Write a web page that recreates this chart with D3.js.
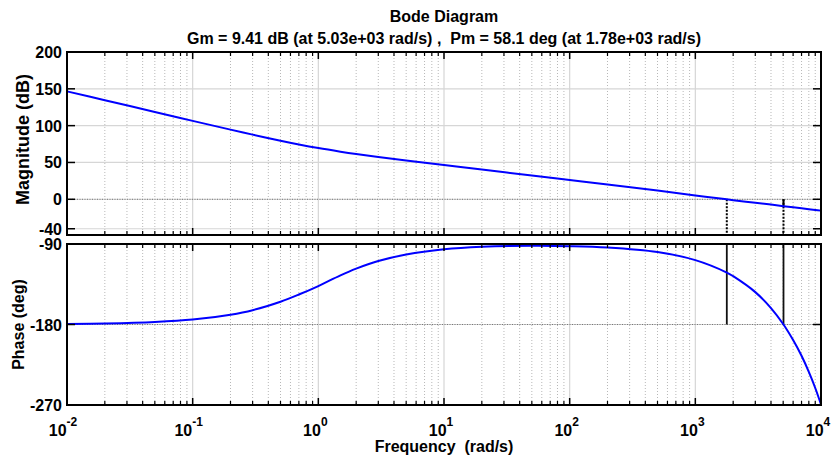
<!DOCTYPE html>
<html>
<head>
<meta charset="utf-8">
<script src="https://cdn.jsdelivr.net/npm/d3@7"></script>
<style>
body { margin: 0; background: #fff; }
text { font-family: "Liberation Sans", Arial, sans-serif; font-weight: bold; fill: #000; white-space: pre; }
</style>
</head>
<body>
<script>
// data
var freq     = [0.01, 0.02, 0.05, 0.1, 0.2, 0.3, 0.5, 0.7, 1, 1.5, 2, 3, 5, 10, 20, 50, 100, 200, 500, 1000, 1780, 2000, 3000, 4000, 5030, 6000, 7000, 8000, 9000, 10000];
var magDb    = [146.5, 134.5, 118.6, 106.5, 94.6, 87.8, 79.5, 74.4, 69.5, 64.6, 61.4, 57.4, 52.7, 46.5, 40.3, 32.2, 26.2, 20.1, 12.0, 5.2, 0, -1.2, -4.7, -7.2, -9.41, -10.9, -12.2, -13.4, -14.4, -15.4];
var phaseDeg = [-179.5, -178.9, -177.2, -174.5, -169, -164, -154.5, -146.5, -137, -125, -117.5, -109, -101.8, -96, -93.2, -92, -92.4, -93.9, -99, -108, -121.9, -126, -143.8, -161.6, -180, -197.4, -215, -233, -251, -269.5];

var magTicks   = [-40, 0, 50, 100, 150, 200];
var phaseTicks = [-270, -180, -90];
var decades    = [-2, -1, 0, 1, 2, 3, 4];

var gm = { db: 9.41, w: 5030 };   // gain margin
var pm = { deg: 58.1, w: 1780 };  // phase margin

var titleText = "Bode Diagram";
var subText = "Gm = 9.41 dB (at 5.03e+03 rad/s) ,  Pm = 58.1 deg (at 1.78e+03 rad/s)";

//SVG
var w = 834, h = 459;
var svg = d3.select("body").append("svg")
	.attr("width", w)
	.attr("height", h);

var left = 67, right = 821;

var x = d3.scaleLog().domain([1e-2, 1e4]).range([left, right]);
var yMag = d3.scaleLinear().domain([-48.5, 200]).range([235, 52]);
var yPh  = d3.scaleLinear().domain([-270, -90]).range([405, 244]);

//minor tick values 2..9 per decade
var minors = [];
decades.slice(0, -1).forEach(function(e){
	for (var k = 2; k <= 9; k++) minors.push(k * Math.pow(10, e));
});
var majors = decades.map(function(e){ return Math.pow(10, e); });

function panel(y, yTicks, dottedAt){
	var y0 = y.range()[1], y1 = y.range()[0];
	var g = svg.append("g");

	//grid
	g.selectAll(".minor").data(minors).enter().append("line")
		.attr("x1", function(d){ return x(d); }).attr("x2", function(d){ return x(d); })
		.attr("y1", y0).attr("y2", y1)
		.attr("stroke", "#b8b8b8").attr("stroke-width", 1).attr("stroke-dasharray", "1,2");
	g.selectAll(".major").data(majors).enter().append("line")
		.attr("x1", function(d){ return x(d); }).attr("x2", function(d){ return x(d); })
		.attr("y1", y0).attr("y2", y1)
		.attr("stroke", "#d6d6d6").attr("stroke-width", 1.2);
	g.selectAll(".hgrid").data(yTicks).enter().append("line")
		.attr("x1", left).attr("x2", right)
		.attr("y1", function(d){ return y(d); }).attr("y2", function(d){ return y(d); })
		.attr("stroke", "#d6d6d6").attr("stroke-width", 1.2);
	g.append("line")
		.attr("x1", left).attr("x2", right)
		.attr("y1", y(dottedAt)).attr("y2", y(dottedAt))
		.attr("stroke", "#777").attr("stroke-width", 1).attr("stroke-dasharray", "1,1.5");
	return g;
}

function frame(y, yTicks){
	var y0 = y.range()[1], y1 = y.range()[0];
	var g = svg.append("g");
	//ticks inward on all four sides
	[y0, y1].forEach(function(edge){
		var dir = edge === y0 ? 1 : -1;
		g.selectAll(null).data(minors).enter().append("line")
			.attr("x1", function(d){ return x(d); }).attr("x2", function(d){ return x(d); })
			.attr("y1", edge).attr("y2", edge + dir * 4)
			.attr("stroke", "#000").attr("stroke-width", 1.2);
		g.selectAll(null).data(majors).enter().append("line")
			.attr("x1", function(d){ return x(d); }).attr("x2", function(d){ return x(d); })
			.attr("y1", edge).attr("y2", edge + dir * 7)
			.attr("stroke", "#000").attr("stroke-width", 1.5);
	});
	[left, right].forEach(function(edge){
		var dir = edge === left ? 1 : -1;
		g.selectAll(null).data(yTicks).enter().append("line")
			.attr("x1", edge).attr("x2", edge + dir * 8)
			.attr("y1", function(d){ return y(d); }).attr("y2", function(d){ return y(d); })
			.attr("stroke", "#000").attr("stroke-width", 1.5);
	});
	g.append("rect")
		.attr("x", left).attr("y", y0)
		.attr("width", right - left).attr("height", y1 - y0)
		.attr("fill", "none").attr("stroke", "#000").attr("stroke-width", 2);
	//tick labels
	g.selectAll(null).data(yTicks).enter().append("text")
		.attr("x", left - 5)
		.attr("y", function(d){ return y(d) + 6; })
		.attr("text-anchor", "end")
		.attr("font-size", 16)
		.text(function(d){ return d; });
}

panel(yMag, magTicks, 0);
panel(yPh, phaseTicks, -180);

//margin markers
var mg = svg.append("g");
mg.append("line")   //dotted at phase crossover in magnitude axes
	.attr("x1", x(pm.w)).attr("x2", x(pm.w))
	.attr("y1", yMag(0)).attr("y2", yMag.range()[0])
	.attr("stroke", "#000").attr("stroke-width", 2).attr("stroke-dasharray", "2,1.5");
mg.append("line")
	.attr("x1", x(gm.w)).attr("x2", x(gm.w))
	.attr("y1", yMag(0)).attr("y2", yMag.range()[0])
	.attr("stroke", "#000").attr("stroke-width", 2).attr("stroke-dasharray", "2,1.5");
mg.append("line")   //gain margin bar
	.attr("x1", x(gm.w)).attr("x2", x(gm.w))
	.attr("y1", yMag(0)).attr("y2", yMag(-gm.db))
	.attr("stroke", "#000").attr("stroke-width", 2);
mg.append("line")   //phase margin bar
	.attr("x1", x(pm.w)).attr("x2", x(pm.w))
	.attr("y1", yPh.range()[1]).attr("y2", yPh(-180))
	.attr("stroke", "#111").attr("stroke-width", 1.8);
mg.append("line")
	.attr("x1", x(gm.w)).attr("x2", x(gm.w))
	.attr("y1", yPh.range()[1]).attr("y2", yPh(-180))
	.attr("stroke", "#111").attr("stroke-width", 1.8);

//curves
var magLine = d3.line()
	.x(function(d, i){ return x(freq[i]); })
	.y(function(d){ return yMag(d); })
	.curve(d3.curveCatmullRom.alpha(0.5));
var phLine = d3.line()
	.x(function(d, i){ return x(freq[i]); })
	.y(function(d){ return yPh(d); })
	.curve(d3.curveCatmullRom.alpha(0.5));

svg.append("path").datum(magDb)
	.attr("d", magLine)
	.attr("fill", "none").attr("stroke", "#0000ff").attr("stroke-width", 2);
svg.append("path").datum(phaseDeg)
	.attr("d", phLine)
	.attr("fill", "none").attr("stroke", "#0000ff").attr("stroke-width", 2);

frame(yMag, magTicks);
frame(yPh, phaseTicks);

//x tick labels (10^n)
var xl = svg.selectAll(".xl").data(decades).enter().append("text")
	.attr("x", function(d){ return x(Math.pow(10, d)) + (d < 0 ? -4 : -3); })
	.attr("y", 436)
	.attr("text-anchor", "middle")
	.attr("font-size", 16);
xl.append("tspan").text("10");
xl.append("tspan")
	.attr("dy", -10)
	.attr("font-size", 12)
	.text(function(d){ return d; });

//titles and axis labels
svg.append("text").attr("x", 444).attr("y", 22)
	.attr("text-anchor", "middle").attr("font-size", 16).text(titleText);
svg.append("text").attr("x", 444).attr("y", 44)
	.attr("text-anchor", "middle").attr("font-size", 16).text(subText);
svg.append("text").attr("x", 444).attr("y", 452)
	.attr("text-anchor", "middle").attr("font-size", 16).text("Frequency  (rad/s)");
svg.append("text")
	.attr("transform", "translate(29," + ((52 + 235) / 2 - 4) + ") rotate(-90)")
	.attr("text-anchor", "middle").attr("font-size", 18).text("Magnitude (dB)");
svg.append("text")
	.attr("transform", "translate(24," + ((244 + 405) / 2) + ") rotate(-90)")
	.attr("text-anchor", "middle").attr("font-size", 16).text("Phase (deg)");
</script>
</body>
</html>
